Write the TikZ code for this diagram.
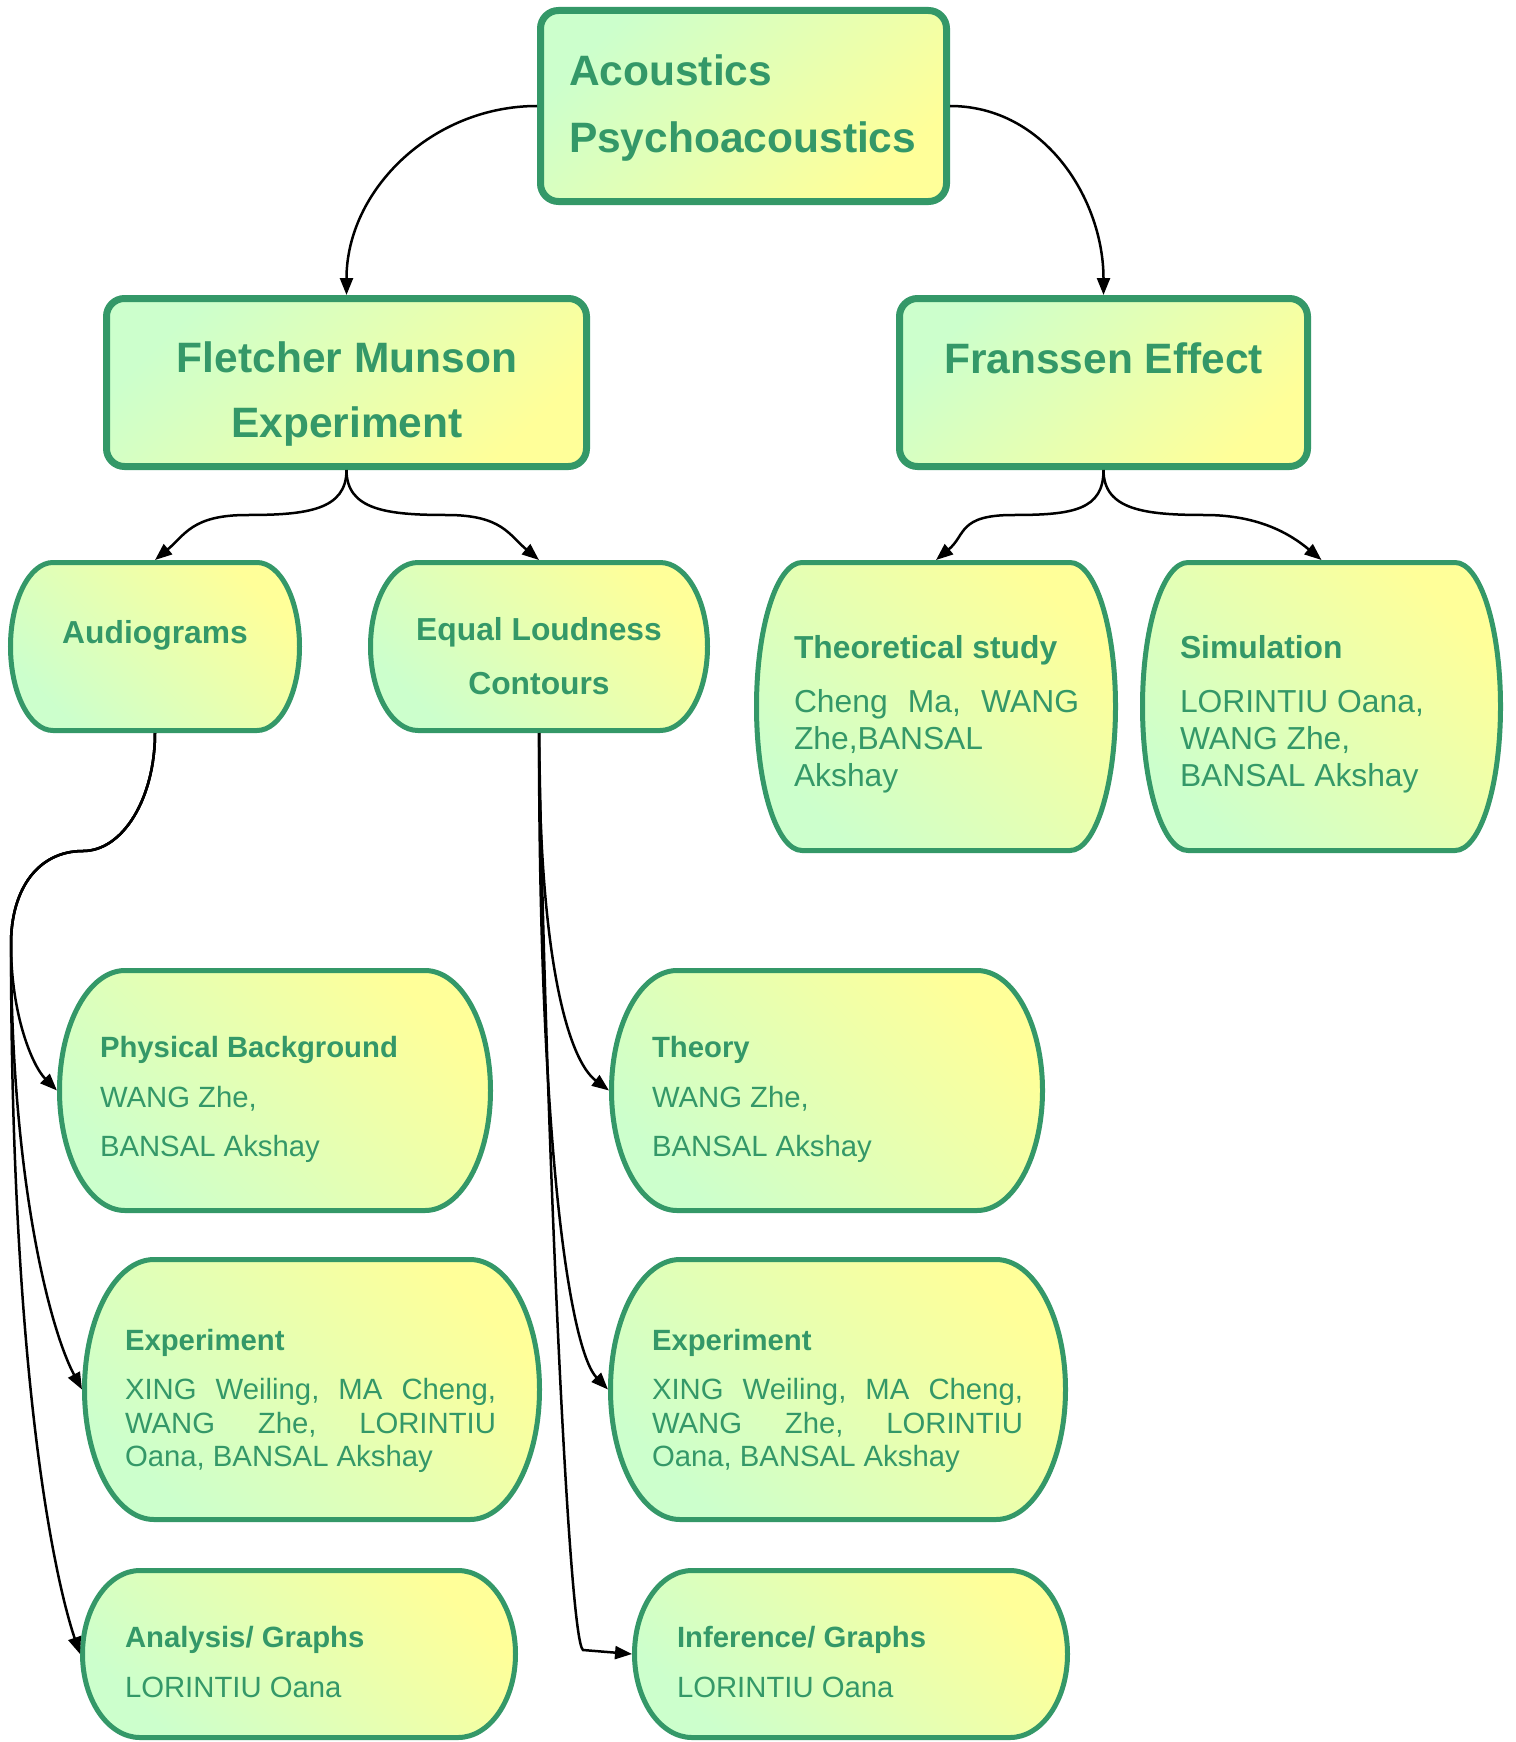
\documentclass[tikz,border=0pt]{standalone}
\usepackage{fontspec}
\setmainfont{Liberation Sans}
\usetikzlibrary{arrows.meta,calc}
\definecolor{gtext}{RGB}{52,152,104}
\definecolor{gfill}{RGB}{204,255,204}
\definecolor{yfill}{RGB}{255,255,153}
\tikzset{
  conn/.style={line width=2.5pt, black, -{Triangle[length=17pt,width=13pt]}},
  rectbox/.style={draw=gtext, line width=7pt, rounded corners=18pt, top color=gfill, bottom color=yfill, shading angle=45},
  pillbox/.style={draw=gtext, line width=5pt, top color=yfill, bottom color=gfill, shading angle=-45},
  geom/.style={inner sep=0pt, outer sep=0pt, draw=none},
  tx/.style={inner sep=0pt, outer sep=0pt, text=gtext},
  bigtext/.style={tx, font=\fontsize{42.5pt}{50pt}\selectfont\bfseries},
  midb/.style={tx, font=\fontsize{31.8pt}{37pt}\selectfont\bfseries},
  midr/.style={tx, font=\fontsize{31.8pt}{37pt}\selectfont},
  smallb/.style={tx, font=\fontsize{29.3pt}{34pt}\selectfont\bfseries},
  smallr/.style={tx, font=\fontsize{29.3pt}{34pt}\selectfont},
}
\newcommand\geomnode[5]{%
  \node[geom, minimum width={(#4-#2)*1pt}, minimum height={(#5-#3)*1pt}] (#1) at ({(#2+#4)/2},{(#3+#5)/2}) {};}
\newcommand\rectshape[5]{%
  \geomnode{#1}{#2}{#3}{#4}{#5}
  \path[rectbox] ($(#1.north west)+(3.5,3.5)$) rectangle ($(#1.south east)+(-3.5,-3.5)$);}
\newcommand\pillshape[6]{%
  \geomnode{#1}{#2}{#3}{#4}{#5}
  \pgfmathsetmacro\myXa{#2+2.5}\pgfmathsetmacro\myYa{#3+2.5}%
  \pgfmathsetmacro\myXb{#4-2.5}\pgfmathsetmacro\myYb{#5-2.5}%
  \pgfmathsetmacro\myH{(\myYb-\myYa)/2}\pgfmathsetmacro\myR{#6-2.5}%
  \path[pillbox] ({\myXa+\myR},\myYa) -- ({\myXb-\myR},\myYa)
     arc[start angle=90,end angle=-90,x radius=\myR pt,y radius=\myH pt]
     -- ({\myXa+\myR},\myYb)
     arc[start angle=270,end angle=90,x radius=\myR pt,y radius=\myH pt] -- cycle;}
\begin{document}
\begin{tikzpicture}[x=1pt,y=-1pt]
\useasboundingbox (0,0) rectangle (1515,1742);
\fill[white] (0,0) rectangle (1515,1742);

% boxes
\rectshape{root}{537}{7}{950}{205}
\rectshape{fm}{103}{295}{590}{470}
\rectshape{fr}{896}{295}{1311}{470}
\pillshape{aud}{8}{560}{302}{733}{45}
\pillshape{el}{368}{560}{710}{733}{50}
\pillshape{th}{754}{560}{1118}{853}{48}
\pillshape{sim}{1140}{560}{1503}{853}{48}
\pillshape{pb}{57}{968}{493}{1213}{68}
\pillshape{tho}{609}{968}{1045}{1213}{68}
\pillshape{exl}{82}{1257}{542}{1522}{72}
\pillshape{exr}{608}{1257}{1068}{1522}{72}
\pillshape{an}{80}{1568}{518}{1740}{60}
\pillshape{inf}{632}{1568}{1070}{1740}{60}

% texts
\node[bigtext, anchor=base west] (rootA) at (569,86) {Acoustics};
\node[bigtext, anchor=base west] (rootB) at (569,153) {Psychoacoustics};
\node[bigtext, anchor=base] (fmA) at (347,372) {Fletcher Munson};
\node[bigtext, anchor=base] (fmB) at (347,437) {Experiment};
\node[bigtext, anchor=base] (frA) at (1103.5,373) {Franssen Effect};
\node[midb, anchor=base] (audA) at (155,643) {Audiograms};
\node[midb, anchor=base] (elA) at (539,640) {Equal Loudness};
\node[midb, anchor=base] (elB) at (539,694) {Contours};

\node[midb, anchor=base west] (thA) at (794,658) {Theoretical study};
\node[midr, anchor=base west] (thB) at (794,712) {\hbox to 285pt{Cheng\hfill Ma,\hfill WANG}};
\node[midr, anchor=base west] (thC) at (794,749) {Zhe,BANSAL};
\node[midr, anchor=base west] (thD) at (794,786) {Akshay};

\node[midb, anchor=base west] (simA) at (1180,658) {Simulation};
\node[midr, anchor=base west] (simB) at (1180,712) {LORINTIU Oana,};
\node[midr, anchor=base west] (simC) at (1180,749) {WANG Zhe,};
\node[midr, anchor=base west] (simD) at (1180,786) {BANSAL Akshay};

\node[smallb, anchor=base west] (pbA) at (100,1057) {Physical Background};
\node[smallr, anchor=base west] (pbB) at (100,1107) {WANG Zhe,};
\node[smallr, anchor=base west] (pbC) at (100,1156) {BANSAL Akshay};

\node[smallb, anchor=base west] (thoA) at (652,1057) {Theory};
\node[smallr, anchor=base west] (thoB) at (652,1107) {WANG Zhe,};
\node[smallr, anchor=base west] (thoC) at (652,1156) {BANSAL Akshay};

\node[smallb, anchor=base west] (exlA) at (125,1350) {Experiment};
\node[smallr, anchor=base west] (exlB) at (125,1399) {\hbox to 371pt{XING\hfill Weiling,\hfill MA\hfill Cheng,}};
\node[smallr, anchor=base west] (exlC) at (125,1433) {\hbox to 371pt{WANG\hfill Zhe,\hfill LORINTIU}};
\node[smallr, anchor=base west] (exlD) at (125,1466) {Oana, BANSAL Akshay};

\node[smallb, anchor=base west] (exrA) at (652,1350) {Experiment};
\node[smallr, anchor=base west] (exrB) at (652,1399) {\hbox to 371pt{XING\hfill Weiling,\hfill MA\hfill Cheng,}};
\node[smallr, anchor=base west] (exrC) at (652,1433) {\hbox to 371pt{WANG\hfill Zhe,\hfill LORINTIU}};
\node[smallr, anchor=base west] (exrD) at (652,1466) {Oana, BANSAL Akshay};

\node[smallb, anchor=base west] (anA) at (125,1647) {Analysis/ Graphs};
\node[smallr, anchor=base west] (anB) at (125,1697) {LORINTIU Oana};

\node[smallb, anchor=base west] (infA) at (677,1647) {Inference/ Graphs};
\node[smallr, anchor=base west] (infB) at (677,1697) {LORINTIU Oana};

% connectors
\draw[conn] (root.west) to[out=180,in=90] (fm.north);
\draw[conn] (root.east) to[out=0,in=90] (fr.north);
\draw[conn] (fm.south) .. controls +(0,40) and +(60,0) .. (247,515) .. controls +(-55,0) and +(30,-25) .. (aud.north);
\draw[conn] (fm.south) .. controls +(0,40) and +(-60,0) .. (447,515) .. controls +(55,0) and +(-30,-25) .. (el.north);
\draw[conn] (fr.south) .. controls +(0,40) and +(60,0) .. (1013,515) .. controls +(-55,0) and +(30,-25) .. (th.north);
\draw[conn] (fr.south) .. controls +(0,40) and +(-60,0) .. (1205,515) .. controls +(55,0) and +(-30,-25) .. (sim.north);

\draw[conn] (aud.south) .. controls +(0,65) and +(40,0) .. (83,851) .. controls +(-45,0) and +(0,-55) .. (11,944) .. controls +(0,70) and +(-25,-25) .. (pb.west);
\draw[conn] (aud.south) .. controls +(0,65) and +(40,0) .. (83,851) .. controls +(-45,0) and +(0,-55) .. (11,944) .. controls (11,1180) and (50,1330) .. (exl.west);
\draw[conn] (aud.south) .. controls +(0,65) and +(40,0) .. (83,851) .. controls +(-45,0) and +(0,-55) .. (11,944) .. controls (11,1380) and (55,1580) .. (an.west);

\draw[conn] (el.south) .. controls +(0,230) and +(-40,-30) .. (tho.west);
\draw[conn] (el.south) .. controls (539,1150) and (570,1350) .. (exr.west);
\draw[conn] (el.south) .. controls (545,1100) and (568,1640) .. (583,1650) -- (inf.west);
\end{tikzpicture}
\end{document}
